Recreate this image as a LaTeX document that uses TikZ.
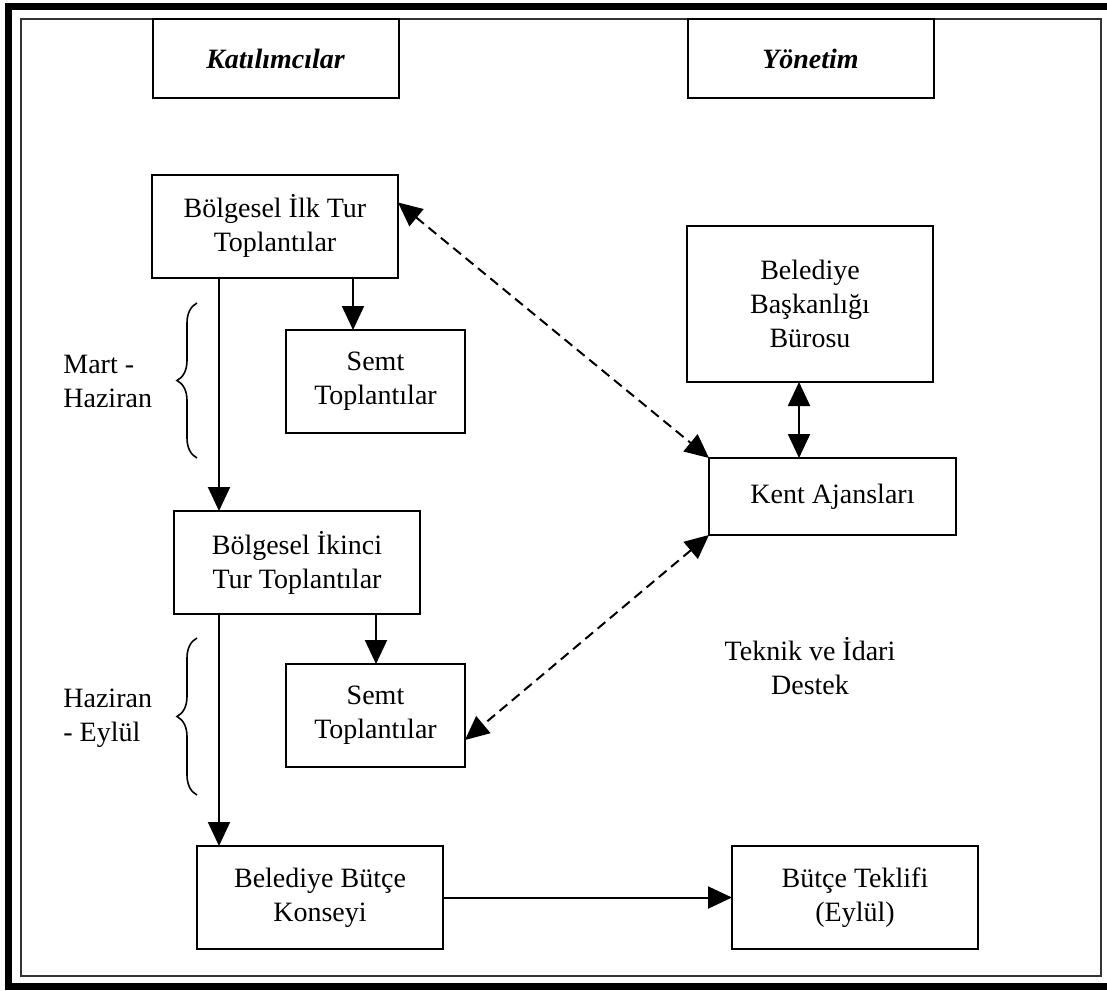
\documentclass[tikz,border=0pt]{standalone}
\usepackage{fontspec}
\setmainfont{Liberation Serif}
\usetikzlibrary{positioning,arrows.meta,decorations.pathreplacing}
\tikzset{
  yazi/.style={font=\fontsize{14}{17}\selectfont},
  kutu/.style={draw,line width=1pt,yazi,align=center,inner sep=0pt,outer sep=0pt,minimum width=123pt,minimum height=51.5pt},
  baslik/.style={kutu,minimum height=39.5pt,font=\fontsize{14}{17}\selectfont\bfseries\itshape},
  ok/.style={-{Triangle[length=12pt,width=11pt]},line width=1pt},
  ciftok/.style={{Triangle[length=12pt,width=11pt]}-{Triangle[length=12pt,width=11pt]},line width=1pt},
  kesik/.style={ciftok,dash pattern=on 5pt off 3pt},
  ayrac/.style={decorate,decoration={brace,amplitude=10pt},line width=0.8pt}
}
\begin{document}
\begin{tikzpicture}[x=0.5pt,y=-0.5pt]
   \useasboundingbox (0,0) rectangle (1107,990);
   \draw[line width=3.5pt] (8.5,6.5) rectangle (1116,986.5);
   \draw[line width=1pt,black!80] (21,19) rectangle (1101,976);

   \node[baslik] (katilim) at (275.5,58.5) {Katılımcılar};
   \node[baslik] (yonetim) at (810.5,58.5) {Yönetim};

   \node[kutu] (ilk) at (275,226) {Bölgesel İlk Tur\\Toplantılar};
   \node[kutu,minimum width=89.5pt] (semt1) at (375.5,381.5) {Semt\\Toplantılar};
   \node[kutu,minimum height=78pt] (baskan) at (810,304) {Belediye\\Başkanlığı\\Bürosu};
   \node[kutu,minimum width=123.5pt,minimum height=38.5pt] (kent) at (832.5,496.5) {Kent Ajansları};
   \node[kutu] (ikinci) at (297,562.5) {Bölgesel İkinci\\Tur Toplantılar};
   \node[kutu,minimum width=89.5pt] (semt2) at (375.5,715.5) {Semt\\Toplantılar};
   \node[kutu] (konsey) at (320,897.5) {Belediye Bütçe\\Konseyi};
   \node[kutu] (teklif) at (855,897.5) {Bütçe Teklifi\\(Eylül)};

   \node[yazi,align=center] (destek) at (810,666) {Teknik ve İdari\\Destek};
   \node[yazi,align=left,anchor=west,inner sep=0pt] (mart) at (63,381) {Mart -\\Haziran};
   \node[yazi,align=left,anchor=west,inner sep=0pt] (eylul) at (63,718) {Haziran\\- Eylül};

   \coordinate (ayrac1a) at (197,458);
   \coordinate (ayrac1u) at (197,303);
   \coordinate (ayrac2a) at (197,795);
   \coordinate (ayrac2u) at (197,638);
   \draw[ayrac] (ayrac1a) -- (ayrac1u);
   \draw[ayrac] (ayrac2a) -- (ayrac2u);

   \path[ok]
   ([xshift=33.5pt]ilk.south west) edge ([xshift=22.5pt]ikinci.north west)
   ([xshift=-22.5pt]ilk.south east) edge ([xshift=33.5pt]semt1.north west)
   ([xshift=22.5pt]ikinci.south west) edge ([xshift=11pt]konsey.north west)
   ([xshift=-22pt]ikinci.south east) edge ([xshift=45pt]semt2.north west)
   (konsey.east) edge (teklif.west);
   \path[ciftok]
   ([xshift=56pt]baskan.south west) edge ([xshift=45pt]kent.north west);
   \path[kesik]
   ([yshift=-14pt]ilk.north east) edge (kent.north west)
   (kent.south west) edge ([yshift=-12.25pt]semt2.east);
\end{tikzpicture}
\end{document}
